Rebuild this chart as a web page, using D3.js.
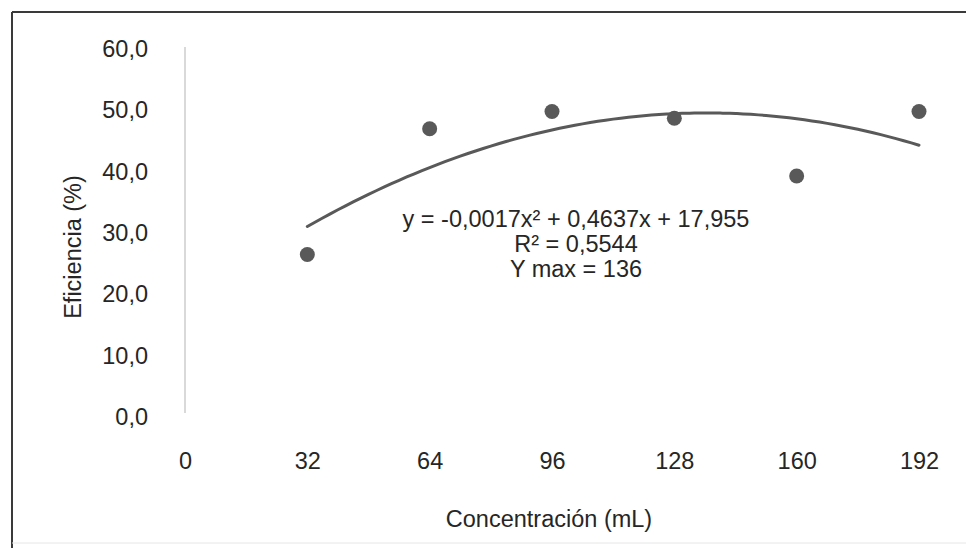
<!DOCTYPE html>
<meta charset="utf-8">
<style>
body { margin: 0; background: #fff; }
text { font-family: "Liberation Sans", Arial, sans-serif; fill: #262626; }
</style>
<svg width="966" height="548"></svg>
<script src="https://d3js.org/d3.v7.min.js"></script>
<script>

// data
var concentracion = [32, 64, 96, 128, 160, 192];
var eficiencia = [26.5, 47.0, 49.8, 48.7, 39.3, 49.8];
var xTicks = [0, 32, 64, 96, 128, 160, 192];
var yTicks = [0, 10, 20, 30, 40, 50, 60];
// polynomial trendline (a, b, c) as printed on the chart
var trendCoef = [-0.0017, 0.4637, 17.955];
var trendLabels = ["y = -0,0017x\u00b2 + 0,4637x + 17,955", "R\u00b2 = 0,5544", "Y max = 136"];

var svg = d3.select("svg");

var fs = 23.5;
var es = d3.formatLocale({decimal: ",", thousands: ".", grouping: [3], currency: ["", ""]});

var x = d3.scaleLinear().domain([0, 192]).range([185, 919]);
var y = d3.scaleLinear().domain([0, 60]).range([417, 49]);

// outer frame
svg.append("line").attr("x1", 12).attr("x2", 966).attr("y1", 12).attr("y2", 12)
    .attr("stroke", "#3a3a3a").attr("stroke-width", 2);
svg.append("line").attr("x1", 12).attr("x2", 12).attr("y1", 12).attr("y2", 548)
    .attr("stroke", "#3a3a3a").attr("stroke-width", 2);
svg.append("line").attr("x1", 12).attr("x2", 966).attr("y1", 543).attr("y2", 543)
    .attr("stroke", "#e6e6e6").attr("stroke-width", 1);

var yAxis = svg.append("g")
    .attr("transform", "translate(" + x(0) + ",0)")
    .call(d3.axisLeft(y).tickValues(yTicks).tickSize(0).tickPadding(37)
      .tickFormat(es.format(".1f")));
yAxis.select(".domain").attr("stroke", "#d9d9d9").attr("stroke-width", 2)
    .attr("d", "M0," + (y(60) - 2) + "V" + (y(0) - 4));
yAxis.selectAll("text").attr("font-size", fs).attr("font-family", null).attr("fill", "#262626");

var xAxis = svg.append("g")
    .attr("transform", "translate(0," + y(0) + ")")
    .call(d3.axisBottom(x).tickValues(xTicks).tickSize(0).tickPadding(35));
xAxis.select(".domain").remove();
xAxis.selectAll("text").attr("font-size", fs).attr("font-family", null).attr("fill", "#262626");

svg.append("text")
    .attr("transform", "translate(81,247) rotate(-90)")
    .attr("text-anchor", "middle")
    .attr("font-size", fs)
    .text("Eficiencia (%)");

svg.append("text")
    .attr("x", 549).attr("y", 527)
    .attr("text-anchor", "middle")
    .attr("font-size", fs)
    .text("Concentración (mL)");

// trendline
var trend = function(v) { return trendCoef[0] * v * v + trendCoef[1] * v + trendCoef[2]; };
var line = d3.line()
    .x(function(d) { return x(d); })
    .y(function(d) { return y(trend(d)); })
    .curve(d3.curveMonotoneX);

svg.append("path")
    .datum(d3.range(concentracion[0], concentracion[concentracion.length - 1] + 1, 2))
    .attr("fill", "none")
    .attr("stroke", "#595959")
    .attr("stroke-width", 3)
    .attr("stroke-linecap", "round")
    .attr("d", line);

svg.append("g").selectAll("circle")
  .data(concentracion)
  .enter().append("circle")
    .attr("cx", function(d) { return x(d); })
    .attr("cy", function(d, i) { return y(eficiencia[i]); })
    .attr("r", 7.5)
    .attr("fill", "#595959");

svg.append("g").selectAll("text")
  .data(trendLabels)
  .enter().append("text")
    .attr("x", 576)
    .attr("y", function(d, i) { return 227 + i * 25; })
    .attr("text-anchor", "middle")
    .attr("font-size", fs)
    .text(function(d) { return d; });

</script>
